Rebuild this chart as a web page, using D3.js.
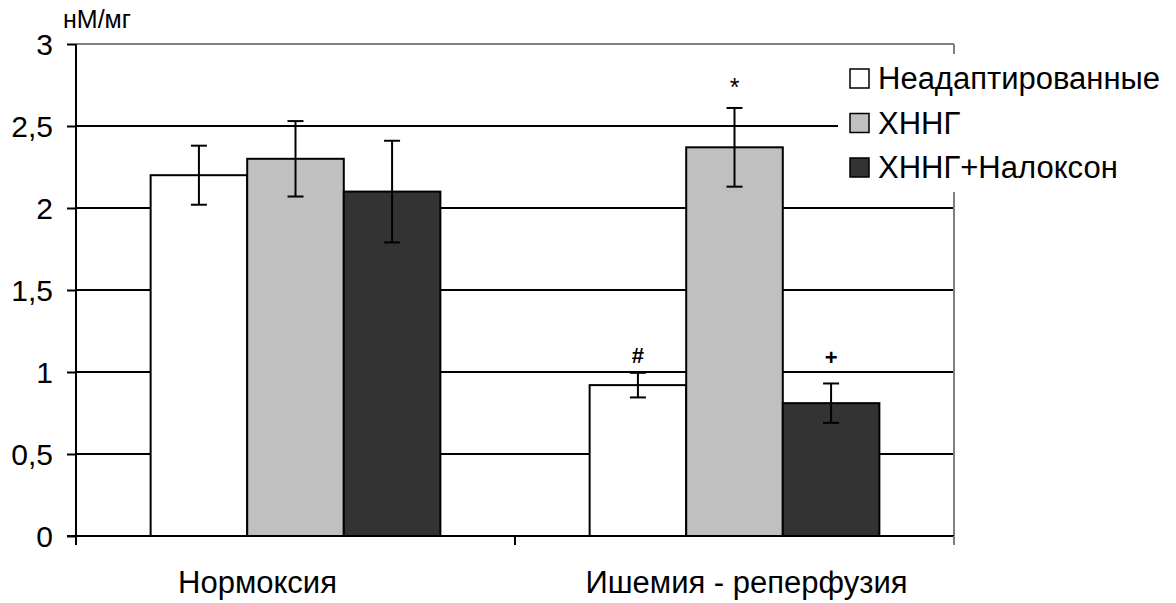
<!DOCTYPE html>
<html><head><meta charset="utf-8">
<script src="https://cdn.jsdelivr.net/npm/d3@7"></script>
<style>body{margin:0;background:#fff}svg{display:block}text{font-family:"Liberation Sans",Arial,sans-serif}</style>
</head><body>
<svg id="c" width="1176" height="603"></svg>
<script>
const categories = ["Нормоксия", "Ишемия - реперфузия"];
const seriesNames = ["Неадаптированные", "ХННГ", "ХННГ+Налоксон"];
const seriesColors = ["#ffffff", "#c0c0c0", "#333333"];
const valuesNeadapt = [2.2, 0.92];
const valuesHNNG = [2.3, 2.37];
const valuesHNNGNal = [2.1, 0.81];
const errNeadapt = [0.18, 0.075];
const errHNNG = [0.23, 0.24];
const errHNNGNal = [0.31, 0.12];
const marksNeadapt = ["", "#"];
const marksHNNG = ["", "*"];
const marksHNNGNal = ["", "+"];
const yTicks = [0, 0.5, 1, 1.5, 2, 2.5, 3];
const yTickLabels = ["0", "0,5", "1", "1,5", "2", "2,5", "3"];
const unitLabel = "нМ/мг";

const values = [valuesNeadapt, valuesHNNG, valuesHNNGNal];
const errs = [errNeadapt, errHNNG, errHNNGNal];
const markSets = [marksNeadapt, marksHNNG, marksHNNGNal];
const markStyle = {"#": {off: 10, size: 22, w: "bold"}, "+": {off: 18, size: 22, w: "bold"}, "*": {off: 12, size: 25, w: "normal"}, "": {off: 0, size: 10, w: "normal"}};

const svg = d3.select("#c");
const L = 76, R = 954, T = 44, B = 536;
const y = d3.scaleLinear().domain([0, 3]).range([B, T]);
const x0 = d3.scaleBand().domain(categories).range([L, R]).paddingInner(0.34).paddingOuter(0.17);
const x1 = d3.scaleBand().domain(seriesNames).range([0, x0.bandwidth()]);

// gridlines
svg.append("g").selectAll("line").data(yTicks.filter(t => t > 0)).join("line")
  .attr("x1", L).attr("x2", R).attr("y1", d => y(d)).attr("y2", d => y(d))
  .attr("stroke", d => d === 3 ? "#808080" : "#000").attr("stroke-width", 2);
// right border
svg.append("line").attr("x1", R).attr("x2", R).attr("y1", y(3)).attr("y2", B + 8)
  .attr("stroke", "#808080").attr("stroke-width", 2);

// bars
const data = [];
categories.forEach((c, i) => seriesNames.forEach((s, j) => data.push({c, s, j, v: values[j][i], e: errs[j][i], m: markSets[j][i]})));
const g = svg.append("g");
g.selectAll("rect").data(data).join("rect")
  .attr("x", d => x0(d.c) + x1(d.s)).attr("width", x1.bandwidth())
  .attr("y", d => y(d.v)).attr("height", d => B - y(d.v))
  .attr("fill", d => seriesColors[d.j]).attr("stroke", "#000").attr("stroke-width", 2);
// error bars
const eb = g.selectAll("g.eb").data(data).join("g").attr("class", "eb")
  .attr("transform", d => `translate(${x0(d.c) + x1(d.s) + x1.bandwidth() / 2},0)`);
eb.append("line").attr("y1", d => y(d.v + d.e)).attr("y2", d => y(d.v - d.e)).attr("stroke", "#000").attr("stroke-width", 2);
eb.append("line").attr("x1", -8).attr("x2", 8).attr("y1", d => y(d.v + d.e)).attr("y2", d => y(d.v + d.e)).attr("stroke", "#000").attr("stroke-width", 2);
eb.append("line").attr("x1", -8).attr("x2", 8).attr("y1", d => y(d.v - d.e)).attr("y2", d => y(d.v - d.e)).attr("stroke", "#000").attr("stroke-width", 2);
eb.append("text").text(d => d.m)
  .attr("y", d => y(d.v + d.e) - markStyle[d.m].off)
  .attr("text-anchor", "middle").attr("font-size", d => markStyle[d.m].size)
  .attr("font-weight", d => markStyle[d.m].w);

// axes
const yAxis = d3.axisLeft(y).tickValues(yTicks).tickFormat((d, i) => yTickLabels[i]).tickSize(9).tickPadding(14);
const ya = svg.append("g").attr("transform", `translate(${L},0)`).call(yAxis);
ya.select(".domain").attr("d", `M0,${T}V${B + 8}`).attr("stroke", "#000").attr("stroke-width", 2);
ya.selectAll(".tick line").attr("stroke", "#000").attr("stroke-width", 2);
ya.selectAll(".tick text").attr("font-size", 30).attr("fill", "#000").attr("dy", "0.34em")
  .attr("font-family", "Liberation Sans, Arial, sans-serif");

const xa = svg.append("g").attr("transform", `translate(0,${B})`);
xa.append("line").attr("x1", L - 9).attr("x2", R).attr("stroke", "#000").attr("stroke-width", 2);
const tickXs = [L, (L + R) / 2, R];
xa.selectAll("line.t").data(tickXs).join("line").attr("class", "t")
  .attr("x1", d => d).attr("x2", d => d).attr("y1", 0).attr("y2", 9).attr("stroke", d => d === R ? "#808080" : "#000").attr("stroke-width", 2);
xa.selectAll("text").data(categories).join("text").text(d => d)
  .attr("x", d => x0(d) + x0.bandwidth() / 2 + (d === categories[0] ? -38 : 12)).attr("y", 57).attr("text-anchor", "middle")
  .attr("font-size", 31).attr("fill", "#000");

svg.append("text").text(unitLabel).attr("x", 63).attr("y", 28).attr("font-size", 25);

// legend
const lg = svg.append("g");
lg.append("rect").attr("x", 838).attr("y", 54).attr("width", 338).attr("height", 138).attr("fill", "#fff");
seriesNames.forEach((s, j) => {
  const cy = 78 + j * 44.5;
  lg.append("rect").attr("x", 850).attr("y", cy - 9).attr("width", 19).attr("height", 19)
    .attr("fill", seriesColors[j]).attr("stroke", "#000").attr("stroke-width", 1.5);
  lg.append("text").text(s).attr("x", 878).attr("y", cy + 11).attr("font-size", 31);
});
</script>
</body></html>
